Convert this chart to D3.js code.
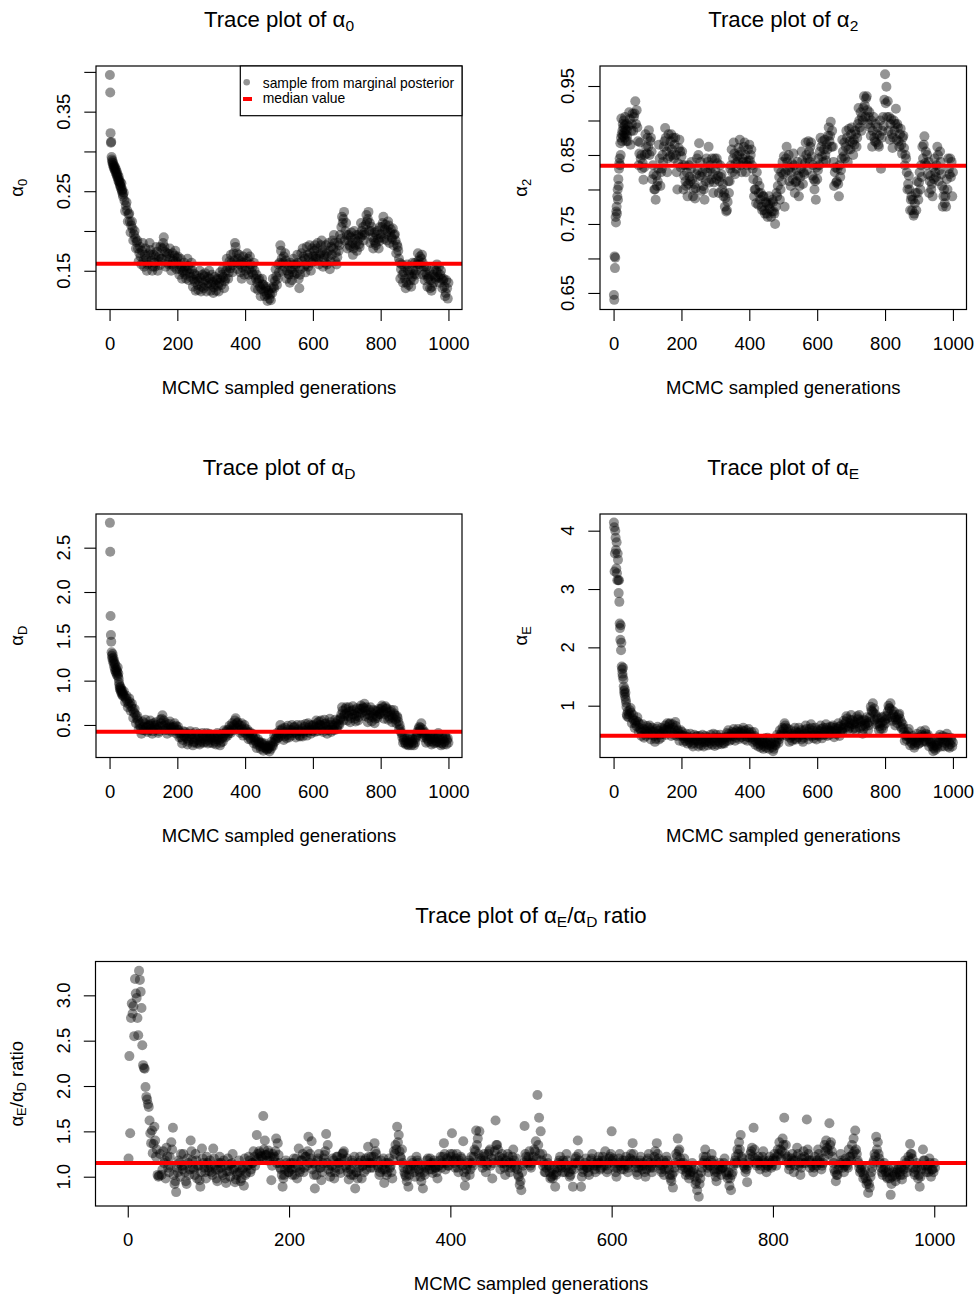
<!DOCTYPE html>
<html lang="en">
<head>
<meta charset="UTF-8"/>
<title>MCMC trace plots</title>
<script src="https://d3js.org/d3.v7.min.js"></script>
<style>
  body { margin: 0; background: #fff; }
  svg text { font-family: "Liberation Sans", Arial, Helvetica, sans-serif; fill: #000; }
</style>
</head>
<body>
<svg id="chart" width="976" height="1297"></svg>
<script>
// ---- generations: every step of the burn-in, then every 2nd one ----
const earlyGens = d3.range(1, 41);
const traceGens = d3.range(42, 1001, 2);
const ratioOddGens = d3.range(43, 1002, 2);   // the ratio chain is shown in full

const xTicks = [0, 200, 400, 600, 800, 1000];

// ---- alpha_0 ----
const alpha0Early = [0.396,0.374,0.323,0.311,0.312,0.293,0.290,0.286,0.288,0.283,
  0.285,0.280,0.282,0.278,0.281,0.276,0.279,0.274,0.277,0.272,
  0.270,0.274,0.268,0.271,0.266,0.263,0.268,0.262,0.264,0.259,
  0.257,0.261,0.254,0.256,0.260,0.251,0.249,0.252,0.246,0.243];
const alpha0Trace = [
  0.248,0.238,0.225,0.232,0.236,0.226,0.212,0.221,0.222,0.212,0.198,0.207,0.212,0.203,0.188,0.196,0.200,0.191,0.178,0.186,0.188,0.178,0.162,0.172,0.180,0.168,0.158,0.175,0.185,0.163,
  0.155,0.170,0.178,0.165,0.150,0.158,0.160,0.172,0.185,0.176,0.170,0.163,0.150,0.155,0.170,0.160,0.155,0.168,0.180,0.174,0.150,0.162,0.168,0.157,0.180,0.165,0.165,0.178,0.185,0.192,0.180,0.174,0.155,0.168,0.172,0.160,0.158,0.171,0.178,0.165,0.150,0.158,0.172,0.163,0.155,0.169,0.175,0.162,0.152,0.166,
  0.168,0.158,0.145,0.152,0.165,0.155,0.140,0.148,0.150,0.160,0.155,0.145,0.140,0.150,0.165,0.156,0.138,0.147,0.152,0.142,0.160,0.151,0.130,0.139,0.146,0.136,0.125,0.144,0.140,0.132,0.126,0.137,0.150,0.141,0.124,0.130,0.145,0.135,0.128,0.143,0.147,0.138,0.124,0.131,0.142,0.134,0.150,0.140,0.125,0.133,
  0.145,0.136,0.122,0.129,0.142,0.133,0.125,0.138,0.140,0.131,0.124,0.135,0.148,0.140,0.132,0.145,0.152,0.142,0.128,0.137,0.140,0.150,0.165,0.155,0.140,0.148,0.162,0.153,0.170,0.160,0.148,0.157,0.172,0.163,0.185,0.180,0.160,0.172,0.152,0.165,0.170,0.158,0.148,0.162,0.140,0.154,0.168,0.160,0.145,0.156,
  0.150,0.162,0.172,0.165,0.145,0.152,0.168,0.158,0.138,0.148,0.155,0.145,0.160,0.150,0.128,0.140,0.145,0.135,0.126,0.138,0.140,0.130,0.118,0.127,0.140,0.133,0.132,0.124,0.118,0.128,0.130,0.120,0.112,0.125,0.122,0.115,0.120,0.113,0.128,0.122,0.140,0.130,0.128,0.137,0.152,0.143,0.132,0.140,0.158,0.148,
  0.160,0.182,0.175,0.165,0.150,0.160,0.168,0.155,0.172,0.163,0.140,0.150,0.158,0.146,0.145,0.135,0.160,0.152,0.138,0.148,0.165,0.158,0.145,0.155,0.158,0.147,0.170,0.160,0.140,0.128,0.145,0.152,0.172,0.162,0.178,0.168,0.155,0.165,0.148,0.158,0.180,0.170,0.155,0.166,0.182,0.172,0.150,0.160,0.178,0.168,
  0.162,0.175,0.182,0.168,0.165,0.178,0.185,0.165,0.158,0.170,0.172,0.182,0.188,0.176,0.155,0.165,0.170,0.160,0.182,0.172,0.158,0.168,0.185,0.175,0.152,0.162,0.180,0.170,0.188,0.178,0.195,0.185,0.162,0.173,0.158,0.167,0.185,0.175,0.182,0.195,0.190,0.205,0.218,0.210,0.215,0.224,0.188,0.200,0.210,0.195,
  0.178,0.188,0.195,0.182,0.180,0.192,0.198,0.185,0.170,0.178,0.200,0.190,0.182,0.195,0.175,0.187,0.195,0.183,0.180,0.192,0.210,0.200,0.195,0.205,0.188,0.198,0.195,0.208,0.220,0.212,0.215,0.224,0.200,0.210,0.185,0.200,0.205,0.192,0.178,0.188,0.198,0.185,0.182,0.195,0.200,0.190,0.178,0.187,0.205,0.196,
  0.192,0.205,0.210,0.218,0.190,0.202,0.208,0.196,0.188,0.200,0.212,0.207,0.185,0.198,0.202,0.192,0.190,0.203,0.182,0.195,0.196,0.188,0.172,0.183,0.180,0.175,0.165,0.160,0.140,0.152,0.158,0.145,0.135,0.148,0.155,0.140,0.128,0.135,0.158,0.150,0.132,0.145,0.150,0.138,0.130,0.142,0.160,0.150,0.138,0.146,
  0.160,0.150,0.145,0.158,0.172,0.163,0.158,0.168,0.155,0.165,0.170,0.160,0.145,0.155,0.138,0.148,0.155,0.145,0.130,0.140,0.142,0.150,0.128,0.138,0.125,0.130,0.145,0.135,0.152,0.142,0.140,0.150,0.158,0.148,0.142,0.155,0.135,0.145,0.150,0.140,0.128,0.138,0.140,0.130,0.118,0.122,0.138,0.128,0.115,0.135];

// ---- alpha_2 ----
const alpha2Early = [0.647,0.640,0.703,0.686,0.701,0.760,0.752,0.768,0.775,0.765,
  0.790,0.800,0.785,0.815,0.805,0.830,0.838,0.845,0.835,0.867,
  0.850,0.875,0.903,0.880,0.870,0.885,0.895,0.878,0.890,0.900,
  0.882,0.875,0.893,0.905,0.887,0.880,0.870,0.895,0.885,0.878];
const alpha2Trace = [
  0.870,0.892,0.912,0.902,0.865,0.885,0.895,0.910,0.885,0.905,0.910,0.928,0.895,0.915,0.890,0.870,0.835,0.852,0.868,0.845,0.850,0.830,0.838,0.814,0.832,0.850,0.880,0.862,0.852,0.875,
  0.862,0.886,0.850,0.870,0.875,0.855,0.815,0.835,0.822,0.800,0.800,0.785,0.820,0.805,0.812,0.830,0.865,0.845,0.805,0.825,0.830,0.850,0.840,0.862,0.870,0.889,0.875,0.855,0.825,0.845,0.880,0.862,0.848,0.870,0.880,0.858,0.850,0.875,0.845,0.865,0.875,0.850,0.825,0.800,0.838,0.860,0.872,0.855,0.832,0.848,
  0.855,0.835,0.800,0.820,0.835,0.812,0.805,0.825,0.790,0.808,0.835,0.818,0.812,0.830,0.840,0.815,0.790,0.800,0.808,0.787,0.802,0.822,0.845,0.828,0.850,0.867,0.820,0.840,0.798,0.818,0.825,0.805,0.800,0.785,0.830,0.812,0.845,0.825,0.840,0.862,0.810,0.835,0.830,0.815,0.845,0.822,0.795,0.810,0.845,0.828,
  0.815,0.845,0.838,0.820,0.795,0.812,0.835,0.818,0.822,0.800,0.808,0.790,0.795,0.775,0.788,0.768,0.770,0.782,0.812,0.795,0.812,0.830,0.835,0.858,0.825,0.845,0.868,0.852,0.822,0.838,0.830,0.848,0.840,0.860,0.850,0.872,0.835,0.855,0.825,0.845,0.840,0.862,0.868,0.850,0.825,0.840,0.835,0.858,0.842,0.865,
  0.842,0.850,0.858,0.835,0.830,0.815,0.790,0.800,0.800,0.780,0.825,0.812,0.778,0.795,0.805,0.785,0.795,0.775,0.770,0.790,0.790,0.770,0.765,0.782,0.780,0.765,0.760,0.778,0.790,0.772,0.780,0.760,0.768,0.785,0.782,0.768,0.765,0.750,0.775,0.795,0.790,0.805,0.830,0.818,0.785,0.800,0.825,0.812,0.840,0.822,
  0.848,0.775,0.825,0.845,0.862,0.840,0.828,0.850,0.812,0.832,0.805,0.825,0.838,0.815,0.852,0.835,0.795,0.810,0.812,0.828,0.840,0.820,0.790,0.805,0.818,0.830,0.855,0.842,0.808,0.825,0.822,0.838,0.868,0.850,0.828,0.845,0.870,0.855,0.840,0.862,0.868,0.848,0.820,0.835,0.815,0.800,0.812,0.785,0.832,0.815,
  0.828,0.845,0.835,0.855,0.875,0.862,0.848,0.870,0.840,0.858,0.872,0.850,0.842,0.865,0.858,0.878,0.890,0.870,0.878,0.898,0.862,0.885,0.862,0.840,0.805,0.825,0.832,0.810,0.812,0.830,0.808,0.790,0.835,0.818,0.828,0.845,0.872,0.855,0.848,0.868,0.845,0.862,0.885,0.875,0.840,0.858,0.888,0.870,0.858,0.880,
  0.890,0.868,0.850,0.872,0.865,0.885,0.880,0.862,0.875,0.895,0.918,0.900,0.890,0.912,0.885,0.905,0.900,0.918,0.935,0.922,0.905,0.932,0.935,0.915,0.895,0.905,0.912,0.890,0.878,0.900,0.862,0.885,0.905,0.875,0.870,0.895,0.868,0.880,0.890,0.865,0.862,0.878,0.900,0.830,0.875,0.885,0.905,0.892,0.930,0.967,
  0.925,0.949,0.905,0.928,0.885,0.905,0.872,0.895,0.902,0.880,0.860,0.875,0.900,0.885,0.895,0.917,0.872,0.895,0.890,0.870,0.862,0.880,0.888,0.865,0.852,0.875,0.878,0.860,0.835,0.850,0.845,0.825,0.800,0.808,0.820,0.800,0.770,0.785,0.790,0.770,0.785,0.762,0.765,0.780,0.795,0.770,0.812,0.795,0.785,0.810,
  0.825,0.800,0.835,0.818,0.862,0.845,0.865,0.877,0.838,0.855,0.835,0.850,0.822,0.840,0.795,0.812,0.820,0.800,0.808,0.790,0.832,0.815,0.845,0.825,0.818,0.835,0.862,0.850,0.812,0.828,0.855,0.840,0.822,0.805,0.775,0.790,0.800,0.780,0.790,0.775,0.815,0.800,0.845,0.830,0.822,0.845,0.818,0.840,0.790,0.825];

// ---- alpha_D ----
const alphaDEarly = [2.78,2.455,1.73,1.515,1.44,1.32,1.28,1.25,1.30,1.22,
  1.26,1.19,1.23,1.15,1.20,1.12,1.18,1.10,1.14,1.08,
  1.12,1.06,1.10,1.15,1.05,1.08,1.02,0.98,0.95,0.92,
  0.90,0.93,0.88,0.91,0.86,0.89,0.84,0.87,0.83,0.85];
const alphaDTrace = [
  0.88,0.82,0.76,0.80,0.83,0.77,0.70,0.74,0.80,0.76,0.66,0.71,0.74,0.68,0.58,0.64,0.68,0.62,0.52,0.58,0.60,0.55,0.45,0.50,0.52,0.46,0.40,0.44,0.54,0.48,
  0.44,0.52,0.56,0.47,0.48,0.42,0.44,0.50,0.49,0.55,0.51,0.45,0.40,0.43,0.52,0.49,0.47,0.53,0.50,0.46,0.45,0.41,0.43,0.48,0.56,0.52,0.57,0.61,0.49,0.55,0.44,0.50,0.52,0.46,0.40,0.44,0.47,0.51,0.54,0.48,0.46,0.42,0.44,0.47,0.48,0.52,0.44,0.49,0.40,0.45,
  0.48,0.44,0.36,0.40,0.41,0.36,0.29,0.33,0.43,0.38,0.37,0.42,0.40,0.35,0.28,0.31,0.33,0.37,0.43,0.40,0.39,0.34,0.27,0.30,0.31,0.36,0.42,0.39,0.29,0.33,0.40,0.37,0.28,0.32,0.30,0.35,0.41,0.38,0.30,0.34,0.37,0.31,0.41,0.36,0.29,0.33,0.40,0.37,0.30,0.35,
  0.39,0.33,0.29,0.36,0.37,0.31,0.28,0.34,0.41,0.38,0.36,0.33,0.27,0.30,0.40,0.35,0.31,0.37,0.44,0.40,0.36,0.42,0.44,0.38,0.40,0.45,0.49,0.43,0.41,0.48,0.52,0.46,0.44,0.50,0.55,0.575,0.47,0.52,0.53,0.47,0.50,0.44,0.41,0.49,0.52,0.45,0.38,0.42,0.50,0.46,
  0.40,0.43,0.45,0.38,0.34,0.41,0.42,0.35,0.33,0.39,0.40,0.36,0.29,0.33,0.36,0.31,0.24,0.28,0.34,0.30,0.31,0.26,0.23,0.29,0.30,0.25,0.21,0.27,0.29,0.24,0.26,0.22,0.23,0.26,0.24,0.20,0.27,0.23,0.31,0.27,0.26,0.30,0.38,0.34,0.32,0.37,0.41,0.35,0.36,0.40,
  0.44,0.50,0.38,0.44,0.46,0.40,0.33,0.37,0.47,0.42,0.35,0.39,0.49,0.45,0.36,0.41,0.44,0.38,0.50,0.44,0.41,0.47,0.48,0.42,0.36,0.40,0.50,0.45,0.43,0.38,0.37,0.43,0.50,0.46,0.37,0.41,0.43,0.48,0.51,0.44,0.38,0.42,0.52,0.47,0.44,0.50,0.40,0.45,0.49,0.43,
  0.50,0.45,0.42,0.48,0.55,0.52,0.43,0.47,0.54,0.50,0.50,0.55,0.44,0.49,0.42,0.46,0.56,0.51,0.52,0.48,0.40,0.44,0.45,0.50,0.57,0.53,0.42,0.47,0.50,0.45,0.44,0.49,0.56,0.52,0.45,0.48,0.55,0.51,0.50,0.56,0.58,0.62,0.70,0.66,0.55,0.60,0.62,0.68,0.70,0.63,
  0.55,0.60,0.70,0.65,0.53,0.58,0.66,0.62,0.71,0.67,0.62,0.57,0.54,0.60,0.69,0.64,0.55,0.59,0.68,0.63,0.72,0.68,0.64,0.70,0.69,0.74,0.60,0.66,0.70,0.62,0.53,0.58,0.67,0.61,0.70,0.64,0.54,0.59,0.67,0.62,0.52,0.57,0.66,0.60,0.58,0.65,0.68,0.62,0.62,0.68,
  0.64,0.72,0.70,0.66,0.57,0.62,0.71,0.68,0.69,0.64,0.56,0.60,0.58,0.65,0.67,0.61,0.53,0.58,0.67,0.63,0.61,0.56,0.52,0.60,0.58,0.54,0.45,0.50,0.46,0.42,0.40,0.36,0.30,0.33,0.36,0.30,0.28,0.32,0.35,0.28,0.27,0.30,0.36,0.34,0.27,0.31,0.34,0.29,0.27,0.33,
  0.30,0.36,0.38,0.42,0.40,0.46,0.48,0.44,0.47,0.52,0.40,0.45,0.36,0.41,0.42,0.38,0.30,0.35,0.38,0.33,0.31,0.37,0.38,0.34,0.28,0.31,0.38,0.36,0.29,0.33,0.36,0.30,0.31,0.35,0.41,0.38,0.30,0.33,0.27,0.29,0.37,0.34,0.28,0.31,0.38,0.36,0.28,0.33,0.35,0.30];

// ---- alpha_E ----
const alphaEEarly = [4.14,4.06,3.30,3.61,4.00,3.88,3.67,3.35,3.80,3.27,
  3.15,3.61,3.50,3.15,2.93,3.15,2.78,2.41,2.33,2.13,
  2.38,1.95,2.08,1.67,1.62,1.55,1.50,1.65,1.45,1.33,
  1.25,1.20,1.28,1.15,1.22,1.10,1.05,0.98,0.85,0.82];
const alphaETrace = [
  0.90,0.80,0.85,0.92,0.96,0.88,0.70,0.78,0.84,0.75,0.62,0.70,0.74,0.65,0.80,0.72,0.55,0.62,0.68,0.58,0.48,0.55,0.68,0.60,0.45,0.52,0.58,0.48,0.65,0.55,
  0.52,0.62,0.66,0.58,0.42,0.50,0.62,0.55,0.56,0.48,0.38,0.43,0.60,0.52,0.64,0.57,0.42,0.50,0.52,0.45,0.62,0.55,0.52,0.60,0.58,0.66,0.50,0.58,0.70,0.63,0.58,0.68,0.70,0.60,0.48,0.55,0.68,0.62,0.50,0.58,0.72,0.65,0.48,0.56,0.58,0.52,0.40,0.48,0.58,0.50,
  0.55,0.48,0.38,0.44,0.48,0.40,0.52,0.46,0.35,0.42,0.46,0.38,0.52,0.45,0.34,0.41,0.30,0.36,0.50,0.43,0.40,0.47,0.48,0.40,0.30,0.35,0.48,0.42,0.32,0.38,0.50,0.44,0.30,0.37,0.48,0.41,0.38,0.46,0.32,0.39,0.44,0.36,0.50,0.43,0.33,0.40,0.52,0.45,0.31,0.38,
  0.50,0.44,0.33,0.40,0.45,0.37,0.50,0.45,0.34,0.41,0.45,0.36,0.35,0.43,0.46,0.39,0.53,0.46,0.58,0.52,0.40,0.47,0.50,0.42,0.55,0.48,0.60,0.53,0.40,0.45,0.56,0.50,0.60,0.55,0.43,0.49,0.54,0.46,0.58,0.52,0.62,0.56,0.42,0.48,0.58,0.51,0.40,0.46,0.60,0.54,
  0.45,0.50,0.55,0.46,0.38,0.42,0.55,0.48,0.33,0.40,0.44,0.36,0.30,0.42,0.40,0.33,0.28,0.38,0.42,0.35,0.26,0.31,0.44,0.37,0.28,0.34,0.45,0.40,0.26,0.32,0.42,0.36,0.34,0.29,0.22,0.26,0.38,0.33,0.32,0.38,0.50,0.45,0.36,0.42,0.58,0.50,0.48,0.55,0.62,0.52,
  0.60,0.70,0.66,0.62,0.48,0.55,0.60,0.50,0.38,0.45,0.58,0.52,0.40,0.48,0.50,0.43,0.62,0.56,0.42,0.50,0.54,0.46,0.62,0.54,0.50,0.58,0.42,0.50,0.38,0.45,0.58,0.52,0.66,0.60,0.50,0.55,0.42,0.48,0.60,0.53,0.68,0.62,0.48,0.57,0.44,0.50,0.62,0.54,0.42,0.49,
  0.58,0.52,0.48,0.56,0.66,0.60,0.44,0.50,0.62,0.55,0.50,0.58,0.68,0.62,0.48,0.54,0.58,0.50,0.64,0.57,0.55,0.63,0.66,0.58,0.46,0.52,0.62,0.56,0.52,0.60,0.70,0.64,0.48,0.55,0.66,0.58,0.55,0.62,0.74,0.68,0.62,0.72,0.82,0.78,0.58,0.65,0.62,0.70,0.76,0.84,
  0.68,0.75,0.60,0.68,0.72,0.62,0.58,0.70,0.82,0.78,0.76,0.84,0.62,0.72,0.74,0.65,0.52,0.60,0.76,0.68,0.65,0.74,0.80,0.70,0.58,0.66,0.72,0.80,0.98,0.92,0.90,1.04,0.88,0.95,0.76,0.85,0.68,0.78,0.80,0.70,0.58,0.65,0.70,0.60,0.80,0.72,0.60,0.66,0.82,0.75,
  0.70,0.82,0.78,0.90,1.00,0.96,0.95,1.04,0.80,0.92,0.74,0.85,0.90,0.80,0.66,0.76,0.80,0.70,0.76,0.84,0.86,0.78,0.64,0.72,0.60,0.68,0.62,0.55,0.40,0.48,0.50,0.42,0.48,0.55,0.60,0.45,0.32,0.38,0.42,0.35,0.48,0.40,0.28,0.32,0.45,0.37,0.52,0.44,0.34,0.41,
  0.36,0.46,0.56,0.50,0.38,0.45,0.48,0.40,0.58,0.52,0.38,0.47,0.50,0.42,0.30,0.38,0.42,0.35,0.38,0.30,0.22,0.27,0.32,0.24,0.38,0.31,0.28,0.35,0.46,0.40,0.50,0.44,0.30,0.38,0.48,0.42,0.30,0.36,0.46,0.40,0.52,0.45,0.30,0.38,0.28,0.34,0.45,0.41,0.30,0.37];

// ---- alpha_E / alpha_D ratio ----
const ratioEarly = [1.20,2.33,1.48,2.75,2.91,2.80,2.88,2.55,3.18,3.02,
  2.97,2.75,2.56,3.27,3.17,3.04,2.86,2.45,2.23,2.20,
  2.19,1.99,1.88,1.85,1.80,1.77,1.62,1.48,1.37,1.51,
  1.26,1.36,1.55,1.40,1.22,1.30,1.02,1.00,1.01,1.25];
const ratioTrace = [
  1.02,1.28,1.18,1.32,1.10,1.22,1.38,1.54,0.92,0.83,1.05,1.15,1.25,1.08,1.12,0.95,1.20,1.02,1.40,1.18,1.08,1.25,0.98,1.12,0.89,1.31,1.15,1.05,1.22,1.10,
  1.18,1.05,1.31,1.12,0.98,1.08,1.22,1.15,1.02,1.12,0.93,1.20,1.06,1.14,1.25,1.10,0.97,1.04,1.18,0.95,1.08,0.90,1.02,1.12,1.22,1.05,1.15,1.28,1.12,1.46,1.20,1.26,1.23,1.67,1.40,1.24,1.29,1.18,0.96,1.25,1.22,1.42,1.37,1.15,1.08,0.89,1.02,1.18,1.12,1.05,
  1.15,1.02,1.20,1.10,0.98,1.31,1.08,1.18,1.05,1.22,1.12,1.44,1.25,1.39,1.15,0.87,1.02,1.20,1.10,0.96,1.15,1.24,1.47,1.35,1.12,1.05,1.20,0.98,1.10,1.22,1.15,1.04,1.25,1.28,1.12,1.20,0.97,1.08,1.18,1.02,0.87,1.05,1.15,1.22,0.98,1.12,1.18,1.08,1.33,1.15,
  1.22,1.10,1.37,1.25,1.12,1.02,1.18,1.08,0.93,1.15,1.05,1.20,1.12,0.98,1.28,1.35,1.55,1.46,1.22,1.30,1.10,1.02,0.95,0.89,1.08,1.18,1.12,1.00,1.22,1.15,1.05,0.95,0.87,1.02,1.12,1.20,1.08,1.15,1.04,1.18,1.10,0.98,1.12,1.22,1.15,1.37,1.08,1.20,1.12,1.25,
  1.48,1.18,1.10,1.25,1.05,1.15,1.20,1.39,0.90,1.08,1.15,1.02,1.22,1.12,1.30,1.51,1.42,1.50,1.18,1.10,1.25,1.05,1.15,1.28,1.12,0.98,1.20,1.62,1.35,1.18,1.08,1.25,1.15,1.02,1.12,1.22,1.05,1.15,1.30,1.10,1.20,1.02,0.91,0.85,1.12,1.56,1.22,1.15,1.28,1.10,
  1.18,1.30,1.39,1.90,1.65,1.50,1.25,1.15,1.05,1.20,1.12,0.98,1.08,1.02,0.89,1.05,1.15,1.22,1.10,1.18,1.05,1.25,1.12,1.00,1.08,0.89,1.15,1.22,1.40,1.18,0.89,1.05,1.12,1.20,1.10,1.02,1.18,1.25,1.12,1.05,1.15,1.22,1.08,1.18,1.12,1.28,1.05,1.15,1.22,1.50,
  1.20,1.10,1.00,1.15,1.25,1.08,1.18,1.12,1.22,1.05,1.15,1.25,1.37,1.18,1.10,1.02,1.15,1.22,1.08,1.12,1.00,1.18,1.25,1.10,1.05,1.15,1.28,1.37,1.20,1.12,1.05,1.18,1.08,1.22,1.12,1.02,0.95,0.88,1.10,1.25,1.42,1.30,1.15,1.08,1.20,1.02,1.12,0.98,1.05,1.15,
  1.08,0.92,0.85,0.78,0.98,1.10,1.22,1.30,1.15,1.05,1.12,1.25,1.18,1.05,0.95,1.08,1.15,1.02,1.10,1.20,1.05,0.98,0.90,0.85,1.05,1.15,1.22,1.30,1.38,1.46,1.20,1.12,1.05,0.94,1.15,1.25,1.32,1.54,1.20,1.12,1.22,1.08,1.18,1.28,1.15,1.05,1.12,1.22,1.10,1.18,
  1.25,1.12,1.30,1.38,1.20,1.42,1.65,1.35,1.22,1.08,1.15,1.25,1.05,1.18,1.32,1.12,1.02,1.20,1.28,1.15,1.63,1.25,1.10,1.18,1.05,1.22,1.12,1.30,1.20,1.08,1.15,1.35,1.40,1.30,1.59,1.38,1.22,1.08,0.95,1.02,1.12,1.25,1.15,1.05,1.20,1.12,1.30,1.22,1.35,1.42,
  1.51,1.25,1.15,1.05,1.12,0.98,1.08,0.92,0.82,0.88,1.05,1.15,1.25,1.44,1.38,1.20,1.10,1.02,1.15,1.05,0.98,1.08,0.80,1.00,1.10,0.95,1.05,1.12,1.02,0.97,1.08,1.18,1.05,1.22,1.36,1.25,1.10,1.02,1.15,0.98,0.89,1.08,1.30,1.18,1.05,1.12,1.20,1.00,1.08,1.15];
const ratioTraceOdd = [
  1.08,1.15,0.98,1.22,1.05,1.12,1.30,1.02,0.95,1.10,1.18,1.00,1.12,1.25,1.05,0.92,1.15,1.08,1.28,1.10,1.02,1.18,1.12,0.96,1.05,1.20,1.10,0.98,1.15,1.06,
  1.12,1.02,1.20,1.08,0.95,1.15,1.10,1.04,1.18,0.98,1.06,1.12,1.00,1.15,1.08,0.94,1.02,1.12,1.05,0.98,1.10,1.20,1.04,1.12,1.18,1.08,1.15,1.22,1.18,1.25,1.28,1.22,1.20,1.30,1.24,1.18,1.26,1.22,1.12,1.20,1.28,1.15,1.24,1.10,1.02,0.98,1.08,1.15,1.05,1.10,
  1.08,1.15,1.02,1.20,1.12,1.05,1.18,1.25,1.10,1.22,1.28,1.15,1.20,1.08,1.02,1.12,1.18,1.25,1.10,1.05,1.20,1.28,1.15,1.08,1.00,1.12,1.18,1.05,1.22,1.15,1.08,1.20,1.26,1.18,1.10,1.05,1.12,1.02,1.15,1.22,1.05,0.98,1.10,1.18,1.12,1.05,1.20,1.15,1.22,1.10,
  1.15,1.22,1.28,1.18,1.10,1.05,1.12,1.20,1.08,1.02,1.15,1.10,1.05,1.18,1.25,1.30,1.38,1.28,1.20,1.15,1.05,1.00,1.08,1.02,1.12,1.15,1.05,1.10,1.18,1.08,1.00,1.12,1.05,1.10,1.18,1.12,1.20,1.08,1.15,1.10,1.05,1.12,1.18,1.10,1.22,1.25,1.15,1.12,1.18,1.22,
  1.25,1.15,1.20,1.10,1.18,1.22,1.12,1.05,1.00,1.12,1.18,1.08,1.15,1.22,1.28,1.35,1.25,1.20,1.15,1.22,1.18,1.12,1.25,1.30,1.20,1.15,1.28,1.35,1.30,1.22,1.15,1.20,1.10,1.18,1.25,1.15,1.10,1.22,1.18,1.12,1.08,1.00,0.95,1.05,1.15,1.25,1.18,1.22,1.12,1.15,
  1.22,1.28,1.20,1.35,1.25,1.18,1.12,1.05,1.10,1.15,1.05,1.00,0.98,1.08,1.02,1.10,1.18,1.12,1.05,1.15,1.10,1.18,1.05,1.02,1.12,1.08,1.20,1.15,1.25,1.12,1.00,1.08,1.15,1.10,1.05,1.12,1.20,1.15,1.08,1.12,1.18,1.15,1.10,1.22,1.18,1.12,1.08,1.20,1.25,1.18,
  1.15,1.05,1.10,1.20,1.12,1.15,1.08,1.18,1.12,1.10,1.20,1.18,1.25,1.15,1.05,1.10,1.18,1.12,1.15,1.05,1.08,1.20,1.15,1.12,1.10,1.22,1.18,1.25,1.15,1.08,1.12,1.02,1.15,1.18,1.08,0.98,1.02,1.05,1.15,1.22,1.28,1.20,1.12,1.15,1.10,1.05,1.08,1.02,1.10,1.05,
  1.00,0.95,1.02,0.92,1.05,1.15,1.18,1.22,1.10,1.12,1.18,1.15,1.08,1.00,1.05,1.12,1.08,1.10,1.15,1.12,1.02,1.05,0.98,1.02,1.12,1.18,1.15,1.25,1.30,1.22,1.15,1.10,1.08,1.12,1.20,1.28,1.22,1.30,1.15,1.18,1.15,1.12,1.22,1.18,1.10,1.12,1.18,1.15,1.12,1.20,
  1.18,1.22,1.25,1.30,1.28,1.35,1.25,1.20,1.15,1.12,1.20,1.18,1.12,1.22,1.25,1.15,1.10,1.15,1.22,1.20,1.30,1.18,1.15,1.12,1.10,1.15,1.18,1.25,1.15,1.12,1.20,1.28,1.32,1.25,1.35,1.28,1.15,1.05,1.02,1.08,1.15,1.18,1.10,1.12,1.15,1.10,1.22,1.18,1.25,1.28,
  1.30,1.18,1.10,1.08,1.05,1.02,0.98,0.95,0.92,1.00,1.10,1.18,1.22,1.30,1.25,1.15,1.05,1.08,1.10,1.00,1.05,0.98,0.92,1.05,1.02,1.00,1.08,1.05,1.10,1.02,1.12,1.15,1.10,1.18,1.25,1.20,1.05,1.08,1.10,1.02,1.00,1.12,1.18,1.12,1.08,1.05,1.15,1.08,1.05,1.10];

// ---- median values (red lines) ----
const medians = [0.1588, 0.8345, 0.424, 0.486, 1.151];

// ---- y ticks, and which of them R printed ----
const alpha0Ticks = [0.15, 0.20, 0.25, 0.30, 0.35, 0.40];
const alpha0Labels = [0.15, 0.25, 0.35];
const alpha2Ticks = [0.65, 0.70, 0.75, 0.80, 0.85, 0.90, 0.95];
const alpha2Labels = [0.65, 0.75, 0.85, 0.95];
const alphaDTicks = [0.5, 1.0, 1.5, 2.0, 2.5];
const alphaETicks = [1, 2, 3, 4];
const ratioTicks = [1.0, 1.5, 2.0, 2.5, 3.0];

const legendItems = ["sample from marginal posterior", "median value"];

var svg = d3.select("#chart");
svg.append("rect").attr("width", 976).attr("height", 1297).attr("fill", "#fff");

var baseFont = 18.5, titleFont = 22.2;
var dotR = 5, dotAlpha = 0.42;

// writes a label with plotmath-like subscripts: parts = [[text, isSub], ...]
function mathText(sel, parts, size, shift) {
  var down = false;
  parts.forEach(function(p) {
    var ts = sel.append("tspan").text(p[0]);
    if (p[1]) {
      ts.attr("font-size", size * 0.7).attr("dy", shift);
      down = true;
    } else {
      ts.attr("font-size", size);
      if (down) { ts.attr("dy", -shift); down = false; }
    }
  });
}

var panels = [
  {early: alpha0Early, trace: alpha0Trace, median: medians[0],
   box: [96, 66, 462, 309.5], ydom: [0.1013, 0.4074], ticks: alpha0Ticks, labels: alpha0Labels, fmt: d3.format(".2f"),
   sym: "0", legend: true},
  {early: alpha2Early, trace: alpha2Trace, median: medians[1],
   box: [600, 66, 966.5, 309.5], ydom: [0.626, 0.979], ticks: alpha2Ticks, labels: alpha2Labels, fmt: d3.format(".2f"),
   sym: "2"},
  {early: alphaDEarly, trace: alphaDTrace, median: medians[2],
   box: [96, 514, 462, 757.5], ydom: [0.133, 2.880], ticks: alphaDTicks, labels: alphaDTicks, fmt: d3.format(".1f"),
   sym: "D"},
  {early: alphaEEarly, trace: alphaETrace, median: medians[3],
   box: [600, 514, 966.5, 757.5], ydom: [0.112, 4.286], ticks: alphaETicks, labels: alphaETicks, fmt: d3.format("d"),
   sym: "E"},
  {early: ratioEarly, trace: ratioTrace, odd: ratioTraceOdd, median: medians[4],
   box: [95.5, 961.5, 966.5, 1206], ydom: [0.677, 3.373], ticks: ratioTicks, labels: ratioTicks, fmt: d3.format(".1f"),
   ratio: true}
];

panels.forEach(function(p) {
  var L = p.box[0], T = p.box[1], R = p.box[2], B = p.box[3];
  var cx = (L + R) / 2;
  var x = d3.scaleLinear().domain([-40, 1040]).range([L, R]);
  var y = d3.scaleLinear().domain(p.ydom).range([B, T]);
  var g = svg.append("g");

  var pts = p.early.map(function(v, i) { return {gen: earlyGens[i], v: v}; })
    .concat(p.trace.map(function(v, i) { return {gen: traceGens[i], v: v}; }));
  if (p.odd) {
    pts = pts.concat(p.odd.map(function(v, i) { return {gen: ratioOddGens[i], v: v}; }));
    pts.sort(function(a, b) { return a.gen - b.gen; });
  }

  g.append("g").selectAll("circle")
    .data(pts)
    .join("circle")
    .attr("cx", function(d) { return x(d.gen); })
    .attr("cy", function(d) { return y(d.v); })
    .attr("r", dotR)
    .attr("fill", "#000")
    .attr("fill-opacity", dotAlpha);

  // median line
  g.append("line")
    .attr("x1", L).attr("x2", R)
    .attr("y1", y(p.median)).attr("y2", y(p.median))
    .attr("stroke", "#ff0000").attr("stroke-width", 4);

  // frame
  g.append("rect")
    .attr("x", L).attr("y", T).attr("width", R - L).attr("height", B - T)
    .attr("fill", "none").attr("stroke", "#000").attr("stroke-width", 1.2);

  // x axis
  var xa = g.append("g").attr("transform", "translate(0," + B + ")")
    .call(d3.axisBottom(x).tickValues(xTicks).tickSize(11.5).tickPadding(15.5).tickFormat(d3.format("d")));
  xa.select(".domain").remove();
  xa.attr("font-size", baseFont).attr("font-family", null);
  xa.selectAll("line").attr("stroke-width", 1.1);

  // y axis ticks
  var ya = g.append("g").attr("transform", "translate(" + L + ",0)")
    .call(d3.axisLeft(y).tickValues(p.ticks).tickSize(11.7).tickFormat(""));
  ya.select(".domain").remove();
  ya.selectAll("text").remove();
  ya.selectAll("line").attr("stroke-width", 1.1);

  // y tick labels, parallel to the axis
  g.selectAll(".ylabel")
    .data(p.labels)
    .join("text")
    .attr("class", "ylabel")
    .attr("transform", function(d) { return "translate(" + (L - 25.8) + "," + y(d) + ") rotate(-90)"; })
    .attr("text-anchor", "middle")
    .attr("font-size", baseFont)
    .text(p.fmt);

  // title
  var titleParts = p.ratio
    ? [["Trace plot of \u03b1"], ["E", 1], ["/\u03b1"], ["D", 1], [" ratio"]]
    : [["Trace plot of \u03b1"], [p.sym, 1]];
  var tt = g.append("text").attr("x", cx).attr("y", T - 39).attr("text-anchor", "middle");
  mathText(tt, titleParts, titleFont, 4);

  // x label
  g.append("text").attr("x", cx).attr("y", B + 84).attr("text-anchor", "middle")
    .attr("font-size", baseFont).text("MCMC sampled generations");

  // y label
  var ylabParts = p.ratio
    ? [["\u03b1"], ["E", 1], ["/\u03b1"], ["D", 1], [" ratio"]]
    : [["\u03b1"], [p.sym, 1]];
  var yl = g.append("text")
    .attr("transform", "translate(" + (L - 73) + "," + ((T + B) / 2) + ") rotate(-90)")
    .attr("text-anchor", "middle");
  mathText(yl, ylabParts, baseFont, 3.5);

  if (p.legend) {
    var lg = g.append("g");
    var lx = 240.3, ly = T;
    lg.append("rect").attr("x", lx).attr("y", ly).attr("width", R - lx).attr("height", 49.7)
      .attr("fill", "#fff").attr("stroke", "#000").attr("stroke-width", 1.2);
    lg.append("circle").attr("cx", lx + 6.4).attr("cy", ly + 16.3).attr("r", 3.3)
      .attr("fill", "#000").attr("fill-opacity", dotAlpha);
    lg.append("line").attr("x1", lx + 2.7).attr("x2", lx + 11.7)
      .attr("y1", ly + 33).attr("y2", ly + 33)
      .attr("stroke", "#ff0000").attr("stroke-width", 4);
    lg.selectAll(".legtext")
      .data(legendItems)
      .join("text")
      .attr("class", "legtext")
      .attr("x", lx + 22.4)
      .attr("y", function(d, i) { return ly + 21.5 + i * 15.5; })
      .attr("font-size", 13.9)
      .text(function(d) { return d; });
  }
});
</script>
</body>
</html>
